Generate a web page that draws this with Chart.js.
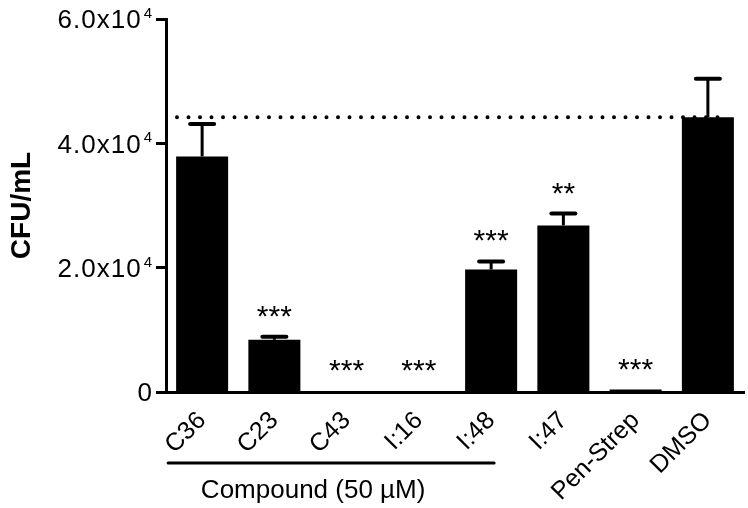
<!DOCTYPE html>
<html>
<head>
<meta charset="utf-8">
<script src="https://cdn.jsdelivr.net/npm/chart.js@4.4.1/dist/chart.umd.min.js"></script>
<style>
  html, body { margin: 0; padding: 0; background: #fff; }
  #wrap { width: 748px; height: 508px; position: relative; }
</style>
</head>
<body>
<div id="wrap"><canvas id="cfuChart"></canvas></div>
<script>
// values
const categories = ['C36', 'C23', 'C43', 'I:16', 'I:48', 'I:47', 'Pen-Strep', 'DMSO'];
const means  = [37900, 8400, 150, 150, 19700, 26800, 400, 44200];
const errors = [5200, 500, 0, 0, 1300, 1900, 0, 6200];
const stars  = ['', '***', '***', '***', '***', '**', '***', ''];
const yTicks = [0, 20000, 40000, 60000];
const yTickBase = ['0', '2.0x10', '4.0x10', '6.0x10'];
const yTickExp  = ['', '4', '4', '4'];
const groupLabel = 'Compound (50 \u00b5M)';
const groupFrom = 0, groupTo = 4;
const refIndex = 7; // dotted line at DMSO mean

const FONT = '"Liberation Sans", Arial, Helvetica, sans-serif';

// y tick text with superscript, error bars, stars, dotted line, bracket
const extras = {
    id: 'extras',
    afterDatasetsDraw(chart) {
        const ctx = chart.ctx;
        const x = chart.scales.x, y = chart.scales.y;
        const meta = chart.getDatasetMeta(0);
        ctx.save();
        ctx.strokeStyle = '#000';
        ctx.fillStyle = '#000';

        // y tick labels
        const right = y.right - 14;
        yTicks.forEach((v, i) => {
            const py = y.getPixelForValue(v);
            let endX = right;
            ctx.letterSpacing = '0px';
            if (yTickExp[i]) {
                ctx.font = '15px ' + FONT;
                ctx.textAlign = 'right';
                ctx.textBaseline = 'alphabetic';
                ctx.fillText(yTickExp[i], right, py - 1);
                endX = right - ctx.measureText(yTickExp[i]).width - 2;
            }
            ctx.font = '26px ' + FONT;
            ctx.letterSpacing = yTickExp[i] ? '1px' : '0px';
            ctx.textAlign = 'right';
            ctx.textBaseline = 'middle';
            ctx.fillText(yTickBase[i], endX, py + 2);
        });
        ctx.letterSpacing = '0px';

        // dotted line
        const yRef = y.getPixelForValue(means[refIndex]);
        ctx.lineWidth = 4;
        ctx.lineCap = 'round';
        ctx.setLineDash([0, 11.5]);
        ctx.beginPath();
        ctx.moveTo(chart.chartArea.left + 11, yRef);
        ctx.lineTo(meta.data[refIndex].x + 20, yRef);
        ctx.stroke();
        ctx.setLineDash([]);

        meta.data.forEach((bar, i) => {
            const top = y.getPixelForValue(means[i] + errors[i]);
            if (errors[i] > 0) {
                ctx.lineWidth = 3;
                ctx.lineCap = 'butt';
                ctx.beginPath();
                ctx.moveTo(bar.x, bar.y);
                ctx.lineTo(bar.x, top);
                ctx.stroke();
                ctx.lineWidth = 4;
                ctx.lineCap = 'round';
                ctx.beginPath();
                ctx.moveTo(bar.x - 12, top);
                ctx.lineTo(bar.x + 12, top);
                ctx.stroke();
            }
            if (stars[i]) {
                ctx.font = '30px ' + FONT;
                ctx.textAlign = 'center';
                ctx.textBaseline = 'alphabetic';
                ctx.fillText(stars[i], bar.x, top - 11);
            }
        });

        // bracket under the compound labels
        const bx0 = x.getPixelForValue(groupFrom) - 34;
        const bx1 = x.getPixelForValue(groupTo) + 3;
        const by = x.top + 71;
        ctx.lineWidth = 3;
        ctx.lineCap = 'round';
        ctx.beginPath();
        ctx.moveTo(bx0, by);
        ctx.lineTo(bx1, by);
        ctx.stroke();
        ctx.font = '26px ' + FONT;
        ctx.textAlign = 'center';
        ctx.textBaseline = 'middle';
        ctx.fillText(groupLabel, (bx0 + bx1) / 2 - 18, by + 28);
        ctx.restore();
    }
};

new Chart(document.getElementById('cfuChart'), {
    type: 'bar',
    data: {
        labels: categories,
        datasets: [{
            data: means,
            backgroundColor: '#000',
            borderWidth: 0,
            barPercentage: 0.72,
            categoryPercentage: 1.0
        }]
    },
    options: {
        responsive: true,
        maintainAspectRatio: false,
        animation: false,
        layout: { padding: { top: 0, right: 4, left: 0, bottom: 0 } },
        plugins: { legend: { display: false }, tooltip: { enabled: false } },
        scales: {
            x: {
                grid: { display: false },
                border: { color: '#000', width: 3 },
                ticks: {
                    color: '#000', maxRotation: 45, minRotation: 45, padding: 6,
                    font: { family: FONT, size: 25 }
                },
                afterFit(s) { s.height = 116; }
            },
            y: {
                min: 0, max: 60000,
                afterBuildTicks(s) { s.ticks = yTicks.map(v => ({ value: v })); },
                grid: { display: true, drawOnChartArea: false, drawTicks: true, tickLength: 10, tickWidth: 3, color: '#000' },
                border: { color: '#000', width: 3 },
                ticks: {
                    color: 'rgba(0,0,0,0)', padding: 4,
                    font: { family: FONT, size: 25 },
                    callback: (v) => yTickBase[yTicks.indexOf(v)]
                },
                title: {
                    display: true, text: 'CFU/mL', color: '#000',
                    font: { family: FONT, size: 28, weight: 'bold' },
                    padding: { top: 5, bottom: 0 }
                },
                afterFit(s) { s.width = 166; }
            }
        }
    },
    plugins: [extras]
});
</script>
</body>
</html>
